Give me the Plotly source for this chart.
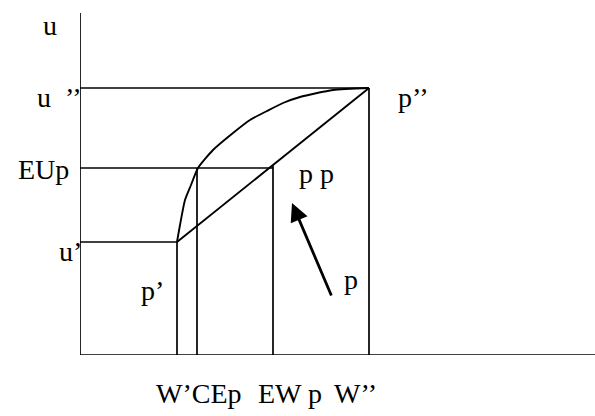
import plotly.graph_objects as go

# Wealth levels (horizontal positions) and utility levels (vertical positions)
W_low, CE, EW, W_high = 97, 117, 193, 289
u_low, EU, u_high = 113, 187, 267

# Concave utility curve u(W)
curve_w = [97, 100, 105, 111, 118, 133, 153, 170, 187, 203, 220, 253, 289]
curve_u = [113, 130, 155, 170, 187, 205, 222, 235, 244, 252, 258, 265, 267]

X_MAX, Y_MAX = 515, 342
FONT = "Liberation Serif"
BLACK = "black"

fig = go.Figure()

def seg(xs, ys, width=1.7, shape="linear"):
    fig.add_trace(go.Scatter(x=xs, y=ys, mode="lines",
                             line=dict(color=BLACK, width=width, shape=shape),
                             hoverinfo="skip", showlegend=False))

# axes
seg([0, 0], [0, Y_MAX])
seg([0, X_MAX], [0, 0])
# horizontal guide lines
seg([0, W_high], [u_high, u_high])
seg([0, EW], [EU, EU])
seg([0, W_low], [u_low, u_low])
# vertical guide lines
seg([W_low, W_low], [0, u_low])
seg([CE, CE], [0, EU])
seg([EW, EW], [0, EU + 3])
seg([W_high, W_high], [0, u_high])
# chord between the two outcomes
seg([W_low, W_high], [u_low, u_high], width=1.9)
# utility curve
fig.add_trace(go.Scatter(x=curve_w, y=curve_u, mode="lines",
                         line=dict(color=BLACK, width=1.9, shape="spline", smoothing=0.6),
                         hoverinfo="skip", showlegend=False))

def label(text, x, y, xanchor="center", yanchor="middle", size=28):
    # positions given in data units, converted to paper fractions so that
    # labels outside the plotting area are still drawn
    fig.add_annotation(x=x / X_MAX, y=y / Y_MAX, text=text, showarrow=False,
                       xref="paper", yref="paper",
                       xanchor=xanchor, yanchor=yanchor,
                       font=dict(family=FONT, size=size, color=BLACK))

# left labels (negative = left of the vertical axis)
label("u", -30, 330)
label("u  ’’", 4, 258, xanchor="right")
label("EUp", -9, 186, xanchor="right")
label("u’", 4, 104, xanchor="right")
# inside labels
label("p’", 72, 65)
label("p p", 236, 181)
label("p’’", 333, 258)
label("p", 271, 76)
# bottom labels
label("W’CEp", 119, -38)
label("EW p", 210, -38)
label("W’’", 275, -38)

# arrow
fig.add_annotation(x=212, y=152, ax=252, ay=58, xref="x", yref="y",
                   axref="x", ayref="y", text="", showarrow=True,
                   arrowhead=2, arrowsize=1.3, arrowwidth=2.8, arrowcolor=BLACK)

fig.update_layout(
    width=595, height=416,
    margin=dict(l=80, r=0, t=13, b=61),
    paper_bgcolor="white", plot_bgcolor="white",
    xaxis=dict(range=[0, X_MAX], visible=False, fixedrange=True),
    yaxis=dict(range=[0, Y_MAX], visible=False, fixedrange=True),
)

# remove the default page margin so the figure sits at the window's corner
fig.write_html("out.html",
               config={"displayModeBar": False},
               post_script="document.body.style.margin='0';"
                           "document.body.style.overflow='hidden';")
